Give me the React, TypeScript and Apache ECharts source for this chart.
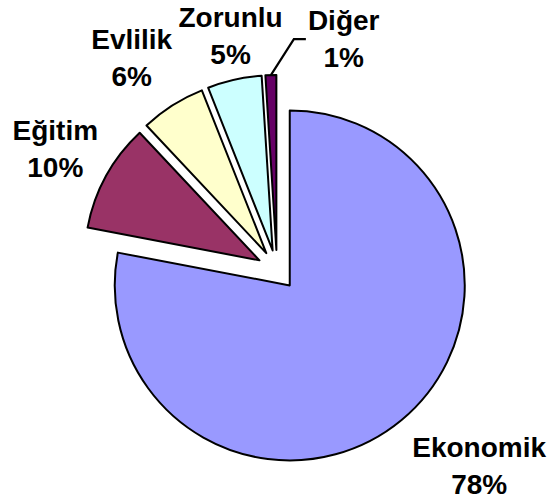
import React, { useEffect, useRef } from 'react';
import * as echarts from 'echarts';

const categories = ['Ekonomik', 'Eğitim', 'Evlilik', 'Zorunlu', 'Diğer'];
const shares = [78, 10, 6, 5, 1];

const sliceColors = ['#9999FF', '#993366', '#FFFFCC', '#CCFFFF', '#660066'];
const labelNudges = [[41, 7], [-2, -3], [-9, -5], [12, 5], [0, 0]];

export default function App() {
  const ref = useRef<HTMLDivElement>(null);
  useEffect(() => {
    document.body.style.margin = '0';
    const chart = echarts.init(ref.current!, null, { renderer: 'svg' });
    chart.setOption({
      animation: false,
      backgroundColor: '#ffffff',
      series: [
        {
          type: 'pie',
          center: [277, 270],
          radius: 175,
          startAngle: 90,
          clockwise: true,
          selectedMode: 'multiple',
          selectedOffset: 20,
          avoidLabelOverlap: false,
          emphasis: { disabled: true },
          itemStyle: { borderColor: '#000', borderWidth: 2 },
          label: {
            show: true,
            position: 'outside',
            formatter: '{b}\n{c}%',
            fontFamily: 'Liberation Sans',
            fontWeight: 'bold',
            fontSize: 28,
            lineHeight: 37,
            color: '#000',
          },
          labelLine: { show: false, length: 50, length2: 0, lineStyle: { color: '#000000', width: 2.2 } },
          labelLayout: (p: any) => {
            const i = p.dataIndex;
            if (i === 4 && p.labelLinePoints) {
              const pts = p.labelLinePoints;
              const a = pts[0];
              const end = pts[pts.length - 1];
              const b = [a[0] + 23, a[1] - 36];
              const c = [b[0] + 12, b[1]];
              const anchorX = end[0] - 5;
              return {
                dx: c[0] + 2 + p.labelRect.width / 2 - anchorX,
                dy: c[1] - end[1],
                align: 'center',
                verticalAlign: 'middle',
                labelLinePoints: [a, b, c],
              };
            }
            return { dx: labelNudges[i][0], dy: labelNudges[i][1], align: 'center', verticalAlign: 'middle' };
          },
          data: categories.map((name, i) => ({
            name,
            value: shares[i],
            selected: true,
            itemStyle: { color: sliceColors[i] },
            ...(i === 4 ? { labelLine: { show: true } } : {}),
          })),
        },
      ],
    });
    return () => chart.dispose();
  }, []);
  return <div ref={ref} style={{ width: 549, height: 502 }} />;
}
